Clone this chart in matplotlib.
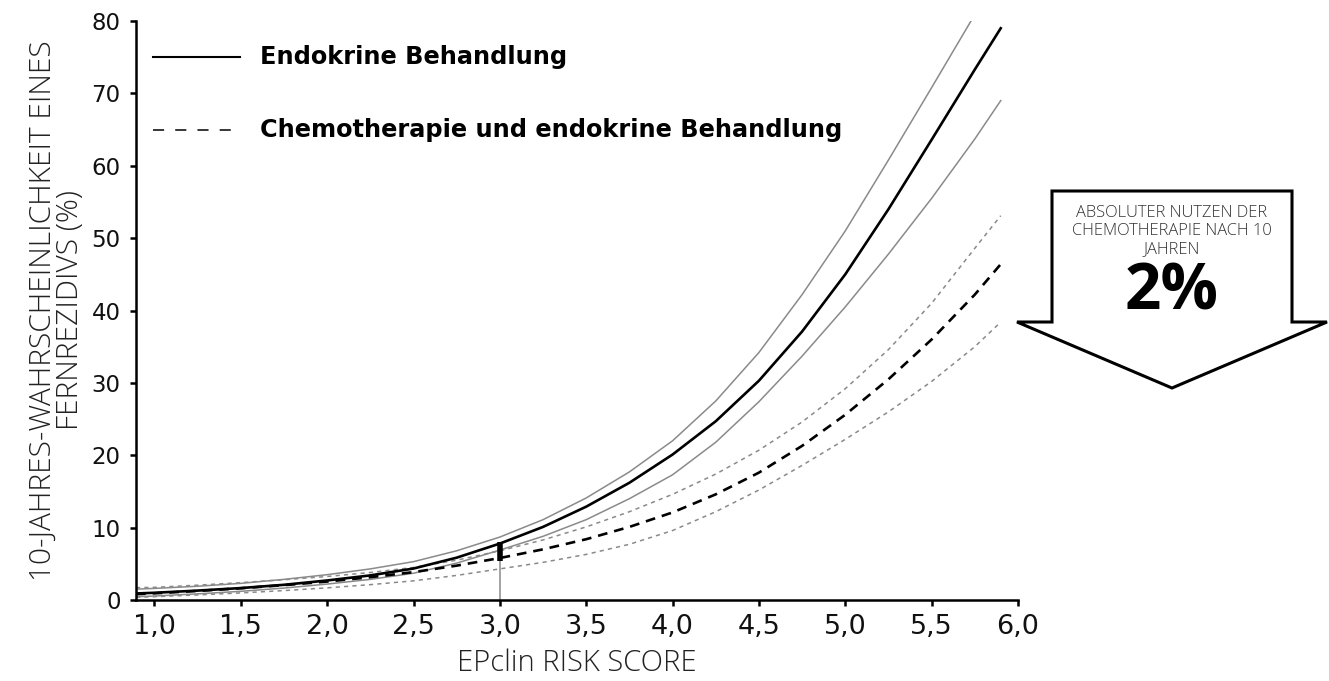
import matplotlib
matplotlib.use('Agg')
import matplotlib.pyplot as plt
from matplotlib.patches import Polygon
import numpy as np

# EPclin risk score grid and 10-year distant recurrence risk (%)
score = [0.893, 1.0, 1.25, 1.5, 1.75, 2.0, 2.25, 2.5, 2.75, 3.0, 3.25, 3.5, 3.75,
         4.0, 4.25, 4.5, 4.75, 5.0, 5.25, 5.5, 5.75, 5.9]
endo = [0.9, 1.0, 1.3, 1.65, 2.1, 2.7, 3.4, 4.35, 5.85, 7.8, 10.1, 12.9, 16.2,
        20.1, 24.7, 30.3, 37.1, 45.0, 54.0, 63.6, 73.3, 79.0]
endo_hi = [1.5, 1.6, 1.9, 2.3, 2.85, 3.5, 4.3, 5.3, 6.8, 8.7, 11.1, 14.1, 17.7,
           22.0, 27.5, 34.2, 42.2, 51.0, 60.8, 70.8, 80.9, 87.0]
endo_lo = [0.45, 0.55, 0.85, 1.2, 1.65, 2.2, 2.85, 3.7, 5.1, 6.9, 8.8, 11.1, 14.0,
           17.3, 21.8, 27.4, 33.7, 40.5, 47.8, 55.5, 63.7, 69.0]
chemo = [0.8, 0.92, 1.25, 1.62, 2.05, 2.55, 3.15, 3.85, 4.75, 5.8, 7.0, 8.4, 10.1,
         12.1, 14.6, 17.6, 21.3, 25.6, 30.5, 36.0, 42.2, 46.4]
chemo_hi = [1.7, 1.75, 2.05, 2.4, 2.8, 3.25, 3.8, 4.5, 5.5, 6.8, 8.3, 10.1, 12.2,
            14.6, 17.4, 20.7, 24.6, 29.2, 34.6, 41.0, 48.6, 53.1]
chemo_lo = [0.38, 0.46, 0.7, 0.98, 1.3, 1.68, 2.12, 2.65, 3.4, 4.3, 5.2, 6.3, 7.7,
            9.6, 12.2, 15.2, 18.6, 22.2, 26.0, 30.2, 35.0, 38.4]

marker_score = 3.0
benefit = '2%'
xticks = [1.0, 1.5, 2.0, 2.5, 3.0, 3.5, 4.0, 4.5, 5.0, 5.5, 6.0]
xticklabels = ['1,0', '1,5', '2,0', '2,5', '3,0', '3,5', '4,0', '4,5', '5,0', '5,5', '6,0']
yticks = [0, 10, 20, 30, 40, 50, 60, 70, 80]

plt.rcParams['lines.scale_dashes'] = False
W, H = 1329, 681
fig = plt.figure(figsize=(W / 100., H / 100.), dpi=100)
ax = fig.add_axes([136. / W, 1 - 600. / H, 882. / W, 579. / H])

grey = '#8a8a8a'
ax.plot(score, endo_hi, color=grey, lw=1.1)
ax.plot(score, endo_lo, color=grey, lw=1.1)
ax.plot(score, chemo_hi, color=grey, lw=1.1, dashes=(3, 3))
ax.plot(score, chemo_lo, color=grey, lw=1.1, dashes=(3, 3))
ax.plot(score, endo, color='black', lw=1.9)
ax.plot(score, chemo, color='black', lw=1.9, dashes=(7, 5))

i = score.index(marker_score)
ax.plot([marker_score, marker_score], [0, chemo[i]], color=grey, lw=1.1)
ax.plot([marker_score, marker_score], [chemo[i] - 0.4, endo[i] + 0.2],
        color='black', lw=4, solid_capstyle='butt')

ax.set_xlim(0.893, 6.0)
ax.set_ylim(0, 80)
ax.set_xticks(xticks)
ax.set_xticklabels(xticklabels, fontsize=19.5, color='#111')
ax.set_yticks(yticks)
ax.set_yticklabels([str(v) for v in yticks], fontsize=16.5, color='#111')
for s in ['top', 'right']:
    ax.spines[s].set_visible(False)
for s in ['left', 'bottom']:
    ax.spines[s].set_linewidth(1.8)
ax.tick_params(width=1.8, length=4, direction='out')
ax.tick_params(axis='x', pad=6)
ax.tick_params(axis='y', pad=7)

ax.set_xlabel('EPclin RISK SCORE', fontsize=21, family='Open Sans',
              fontweight='light', color='#222', labelpad=6)
ax.set_ylabel('10-JAHRES-WAHRSCHEINLICHKEIT EINES\nFERNREZIDIVS (%)', fontsize=21.5,
              family='Open Sans', fontweight='light', color='#222',
              linespacing=0.88, labelpad=5)

# legend drawn by hand
ax.plot([0.0193, 0.118], [0.938, 0.938], transform=ax.transAxes, color='black', lw=1.5)
ax.plot([0.0193, 0.118], [0.812, 0.812], transform=ax.transAxes, color='black', lw=1.1,
        dashes=(8, 8))
ax.text(0.1406, 0.938, 'Endokrine Behandlung', transform=ax.transAxes, fontsize=17.3,
        fontweight='bold', va='center', ha='left')
ax.text(0.1406, 0.812, 'Chemotherapie und endokrine Behandlung', transform=ax.transAxes,
        fontsize=17.3, fontweight='bold', va='center', ha='left')

# arrow box on the right
pts = [(1052, 191), (1292, 191), (1292, 322), (1327, 322), (1172, 388),
       (1017, 322), (1052, 322)]
arrow = Polygon([(x / W, 1 - y / H) for x, y in pts], closed=True, fill=False,
                edgecolor='black', lw=2.2, transform=fig.transFigure)
fig.patches.append(arrow)
fig.text(1172. / W, 1 - 231. / H, 'ABSOLUTER NUTZEN DER\nCHEMOTHERAPIE NACH 10\nJAHREN',
         ha='center', va='center', fontsize=11.9, family='Open Sans', fontweight='light',
         color='#333', linespacing=1.15)
fig.text(1172. / W, 1 - 293. / H, benefit, ha='center', va='center', fontsize=46,
         family='Open Sans', fontweight='bold', color='black')

fig.savefig('out.png', dpi=100)
